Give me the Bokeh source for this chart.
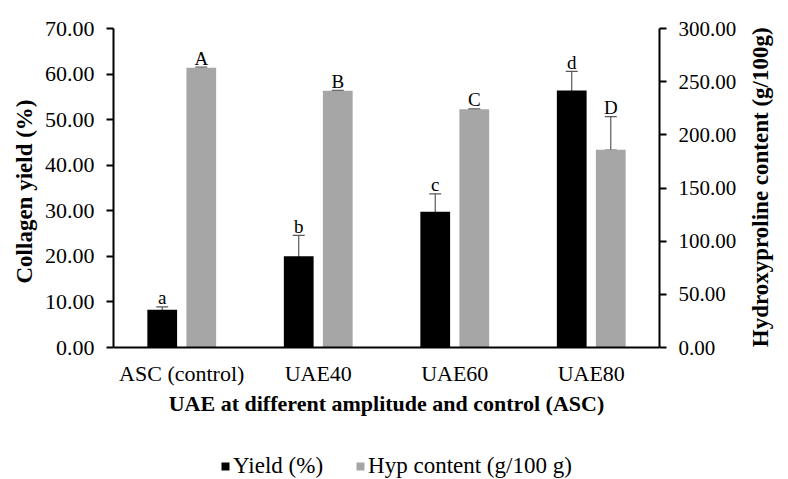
import math
from bokeh.plotting import figure
from bokeh.models import (FactorRange, Range1d, LinearAxis, FixedTicker, NumeralTickFormatter,
                          ColumnDataSource, Whisker, TeeHead, Legend, LegendItem, Title)
from bokeh.transform import dodge
from bokeh.embed import file_html
from bokeh.resources import INLINE
from bokeh.core.properties import value

categories = ["ASC (control)", "UAE40", "UAE60", "UAE80"]
yield_pct = [8.3, 20.0, 29.8, 56.4]
yield_upper = [8.9, 24.6, 33.7, 60.6]
yield_lower = [7.4, 19.2, 28.8, 55.5]
yield_letters = ["a", "b", "c", "d"]
hyp_content = [263.0, 241.4, 224.1, 185.9]
hyp_upper = [263.6, 241.8, 224.5, 217.2]
hyp_lower = [262.4, 241.0, 223.7, 185.6]
hyp_letters = ["A", "B", "C", "D"]
left_ticks = [0, 10, 20, 30, 40, 50, 60, 70]
right_ticks = [0, 50, 100, 150, 200, 250, 300]
LEFT_MAX = 70
RIGHT_MAX = 300

FONT = "Liberation Serif"
BLACK = "#000000"
GRAY = "#A6A6A6"
ERR = "#595959"

# layout (pixels)
WIDTH, HEIGHT = 788, 479
TOP, LEFT, RIGHT = 28, 113, 124
PLOT_H = 319            # height of the value area (0 .. max)
BELOW = HEIGHT - TOP - PLOT_H   # space under the zero line for labels and legend
frac = BELOW / PLOT_H

src = ColumnDataSource(dict(cat=categories, y=yield_pct, yu=yield_upper, yl=yield_lower,
                            yt=yield_letters, h=hyp_content, hu=hyp_upper, hl=hyp_lower,
                            ht=hyp_letters))

p = figure(x_range=FactorRange(*categories, range_padding=0),
           y_range=Range1d(-frac * LEFT_MAX, LEFT_MAX),
           width=WIDTH, height=HEIGHT, output_backend="svg", toolbar_location=None,
           min_border_left=LEFT, min_border_right=RIGHT, min_border_top=TOP, min_border_bottom=0)
p.extra_y_ranges = {"right": Range1d(-frac * RIGHT_MAX, RIGHT_MAX)}
p.outline_line_color = None
p.xgrid.grid_line_color = None
p.ygrid.grid_line_color = None

OFF = 0.143
W = 0.218
r1 = p.vbar(x=dodge("cat", -OFF, range=p.x_range), top="y", bottom=0, width=W, source=src,
            fill_color=BLACK, line_color=None)
r2 = p.vbar(x=dodge("cat", OFF, range=p.x_range), top="h", bottom=0, width=W, source=src,
            fill_color=GRAY, line_color=None, y_range_name="right")

w1 = Whisker(base=dodge("cat", -OFF, range=p.x_range), upper="yu", lower="yl", source=src,
             line_color=ERR, line_width=1.2,
             upper_head=TeeHead(size=12, line_color=ERR, line_width=1.2),
             lower_head=TeeHead(size=12, line_color=ERR, line_width=1.2))
w2 = Whisker(base=dodge("cat", OFF, range=p.x_range), upper="hu", lower="hl", source=src,
             line_color=ERR, line_width=1.2, y_range_name="right",
             upper_head=TeeHead(size=12, line_color=ERR, line_width=1.2),
             lower_head=TeeHead(size=12, line_color=ERR, line_width=1.2))
p.add_layout(w1)
p.add_layout(w2)

p.text(x=dodge("cat", -OFF, range=p.x_range), y="yu", text="yt", source=src, y_offset=-9,
       text_align="center", text_baseline="alphabetic", text_font=value(FONT),
       text_font_size="19px", text_color="#000000")
p.text(x=dodge("cat", OFF, range=p.x_range), y="hu", text="ht", source=src, y_offset=-9,
       text_align="center", text_baseline="alphabetic", text_font=value(FONT),
       text_font_size="19px", text_color="#000000", y_range_name="right")

# left axis
ya = p.yaxis[0]
ya.ticker = FixedTicker(ticks=left_ticks)
ya.formatter = NumeralTickFormatter(format="0.00")
ya.bounds = (0, LEFT_MAX)
ya.major_label_standoff = 12

# left axis title, centred on the value area
left_title = Title(text="Collagen yield  (%)", align="left", offset=196, standoff=10,
                   text_font=FONT, text_font_style="bold", text_font_size="23px",
                   text_color="#000000")
p.add_layout(left_title, "left")

# right axis; its title reads bottom-to-top and starts level with the zero line
RIGHT_TITLE = "Hydroxyproline content (g/100g)"
ra = LinearAxis(y_range_name="right", ticker=FixedTicker(ticks=right_ticks),
                formatter=NumeralTickFormatter(format="0.00"), bounds=(0, RIGHT_MAX),
                axis_label="\u00a0" * 23 + RIGHT_TITLE)
p.add_layout(ra, "right")
ra.major_label_standoff = 12
ra.axis_label_standoff = 21
ra.axis_label_orientation = math.pi / 2
ra.axis_label_align = "start"

for ax in (ya, ra):
    ax.major_tick_out = 7
    ax.major_tick_in = 0
    ax.minor_tick_out = 0
    ax.minor_tick_in = 0

# category axis drawn on the zero line
xa = p.xaxis[0]
xa.fixed_location = 0
xa.axis_label = "UAE at different amplitude and control (ASC)"
xa.major_tick_out = 0
xa.major_tick_in = 0
xa.major_label_standoff = 13
xa.axis_label_standoff = 2

for ax in (ya, ra, xa):
    ax.axis_line_color = "#000000"
    ax.axis_line_width = 2
    ax.major_tick_line_color = "#000000"
    ax.major_tick_line_width = 2
    ax.major_label_text_font = FONT
    ax.major_label_text_font_size = "22px"
    ax.major_label_text_color = "#000000"
    ax.axis_label_text_font = FONT
    ax.axis_label_text_font_style = "bold"
    ax.axis_label_text_font_size = "22px"
    ax.axis_label_text_color = "#000000"
ra.axis_label_text_font_size = "23px"
ra.major_label_text_font_size = "21px"

legend = Legend(items=[LegendItem(label="Yield (%)", renderers=[r1]),
                       LegendItem(label="Hyp content (g/100 g)", renderers=[r2])],
                location=(107, 0), orientation="horizontal",
                glyph_width=10, glyph_height=10, label_standoff=3, spacing=32,
                padding=0, margin=0, border_line_alpha=0, background_fill_alpha=0,
                label_text_font=FONT, label_text_font_size="23px", label_text_color="#000000")
p.add_layout(legend)

open("out.html", "w").write(file_html(p, INLINE))
